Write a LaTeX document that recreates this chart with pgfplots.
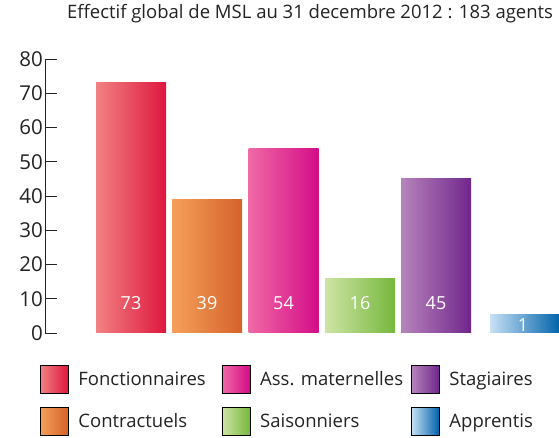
\documentclass[border=0pt]{standalone}
\usepackage{pgfplots}
\pgfplotsset{compat=1.18}
\usepackage{fontspec}
\setmainfont{Open Sans}
\definecolor{txt}{RGB}{35,35,35}
\definecolor{fonL}{RGB}{242,130,130}\definecolor{fonR}{RGB}{222,22,62}
\definecolor{conL}{RGB}{246,160,90}\definecolor{conM}{RGB}{237,112,30}\definecolor{conR}{RGB}{212,98,42}
\definecolor{assL}{RGB}{240,105,165}\definecolor{assM}{RGB}{228,0,128}\definecolor{assR}{RGB}{212,12,136}
\definecolor{saiL}{RGB}{206,228,165}\definecolor{saiR}{RGB}{118,184,60}
\definecolor{staL}{RGB}{182,132,188}\definecolor{staR}{RGB}{112,38,140}
\definecolor{appL}{RGB}{200,225,245}\definecolor{appR}{RGB}{0,98,170}
\begin{document}
\begin{tikzpicture}
\useasboundingbox (0,0) rectangle (559pt,438pt);
\begin{axis}[
  at={(45pt,105pt)}, anchor=origin,
  scale only axis, width=514pt, height=274pt,
  xmin=0, xmax=514, ymin=0, ymax=80,
  axis x line=none,
  axis y line*=left,
  axis line style={color=txt, line width=0.8pt},
  ytick={0,10,...,80},
  tick align=inside,
  major tick length=12pt,
  tick style={color=txt, line width=0.8pt},
  /pgf/number format/assume math mode=true,
  yticklabel style={font=\fontsize{20.5}{24}\selectfont, text=txt, inner sep=2pt},
  title={Effectif global de MSL au 31 decembre 2012 : 183 agents},
  title style={at={(axis description cs:0.5156,1.142)}, anchor=center, font=\fontsize{18.5}{22}\selectfont, text=txt},
  legend image code/.code={\path[#1] (0pt,-14pt) rectangle (28pt,14pt);},
  legend columns=3,
  legend cell align=left,
  legend style={draw=none, fill=none, at={(axis description cs:-0.0097,-0.1168)}, anchor=north west,
    inner sep=0pt, outer sep=0pt,
    font=\fontsize{18.5}{22}\selectfont, text=txt, row sep=14pt,
    /tikz/every odd column/.append style={column sep=8pt},
    /tikz/column 2/.append style={column sep=14pt},
    /tikz/column 4/.append style={column sep=6pt}},
]
\addplot[forget plot, ybar, bar width=70pt, bar shift=0pt, draw=none, left color=fonL, right color=fonR] coordinates {(86,73)};
\addplot[forget plot, ybar, bar width=70pt, bar shift=0pt, draw=none, left color=conL, middle color=conM, right color=conR] coordinates {(162,39)};
\addplot[forget plot, ybar, bar width=70pt, bar shift=0pt, draw=none, left color=assL, middle color=assM, right color=assR] coordinates {(238.5,54)};
\addplot[forget plot, ybar, bar width=70pt, bar shift=0pt, draw=none, left color=saiL, right color=saiR] coordinates {(315,16)};
\addplot[forget plot, ybar, bar width=70pt, bar shift=0pt, draw=none, left color=staL, right color=staR] coordinates {(391,45)};
\addplot[forget plot, ybar, bar width=70pt, bar shift=0pt, draw=none, left color=appL, right color=appR] coordinates {(480,5.3)};
\addplot[forget plot, only marks, mark=none, point meta=explicit symbolic, nodes near coords,
  nodes near coords style={anchor=center, text=white, font=\fontsize{18}{20}\selectfont}]
  coordinates {(86,8.8)[73] (162,8.8)[39] (238.5,8.8)[54] (315,8.8)[16] (391,8.8)[45] (478,2.3)[1]};
\draw[color=txt, line width=0.8pt] (axis cs:0,0) -- (axis cs:445,0);
\addlegendimage{left color=fonL, right color=fonR}
\addlegendimage{left color=assL, middle color=assM, right color=assR}
\addlegendimage{left color=staL, right color=staR}
\addlegendimage{left color=conL, middle color=conM, right color=conR}
\addlegendimage{left color=saiL, right color=saiR}
\addlegendimage{left color=appL, right color=appR}
\legend{Fonctionnaires, Ass. maternelles, Stagiaires, Contractuels, Saisonniers, Apprentis}
\end{axis}
\end{tikzpicture}
\end{document}
